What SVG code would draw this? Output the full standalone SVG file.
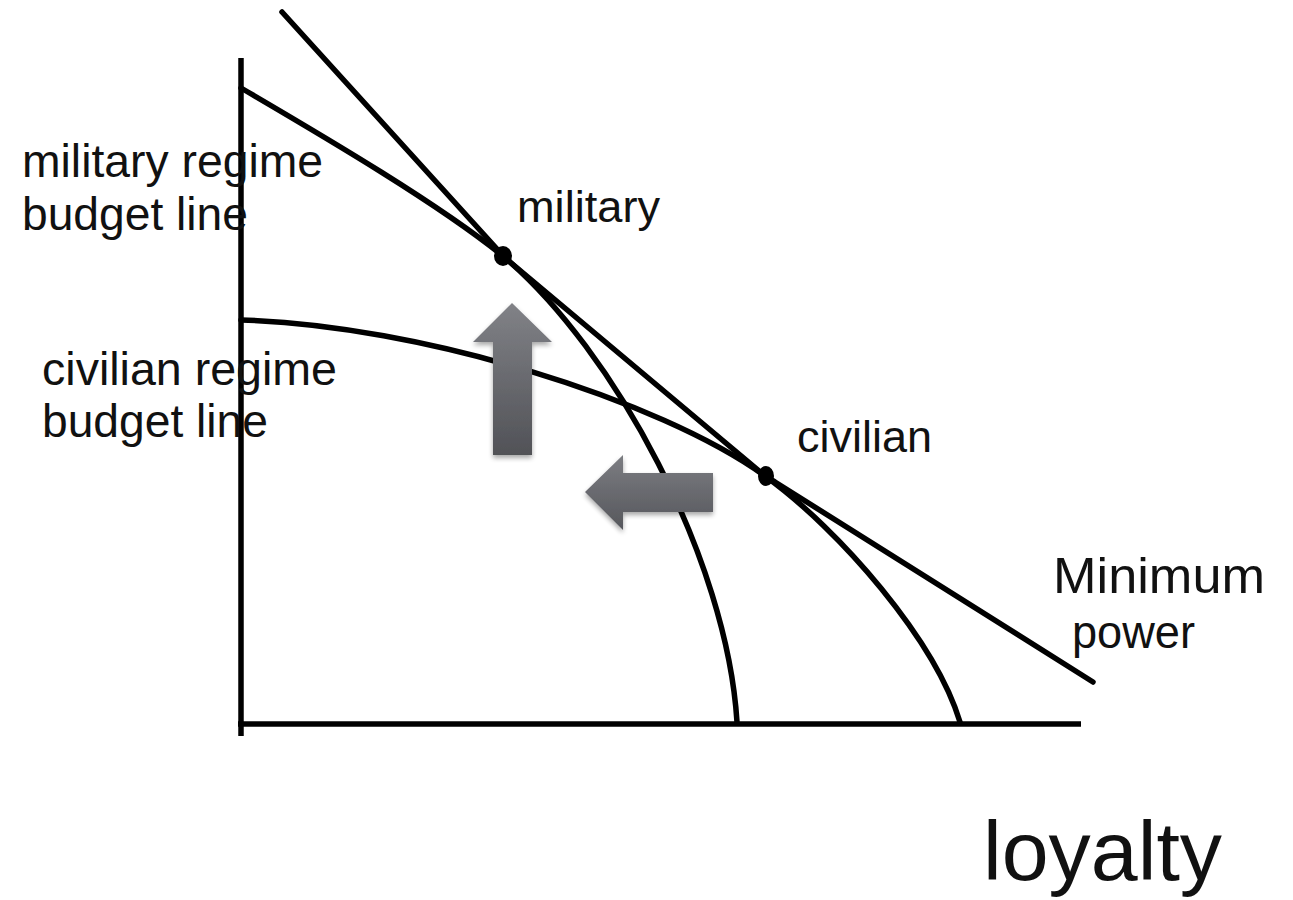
<svg xmlns="http://www.w3.org/2000/svg" width="1293" height="900" viewBox="0 0 1293 900">
  <style>
    .lbl { font-family: "Liberation Sans", Arial, sans-serif; fill: #111; }
    .ln { fill: none; stroke: #000; stroke-width: 5.5; stroke-linecap: round; stroke-linejoin: round; }
    .ax { fill: none; stroke: #000; stroke-width: 5.5; }
  </style>
  <defs>
    <linearGradient id="gUp" x1="0" y1="0" x2="0" y2="1">
      <stop offset="0" stop-color="#818287"/>
      <stop offset="1" stop-color="#515257"/>
    </linearGradient>
    <linearGradient id="gLeft" x1="0" y1="0" x2="0" y2="1">
      <stop offset="0" stop-color="#7c7d82"/>
      <stop offset="1" stop-color="#56575c"/>
    </linearGradient>
    <filter id="sh" x="-20%" y="-20%" width="140%" height="140%">
      <feGaussianBlur in="SourceAlpha" stdDeviation="2.5"/>
      <feOffset dx="0" dy="3" result="b"/>
      <feComponentTransfer><feFuncA type="linear" slope="0.35"/></feComponentTransfer>
      <feMerge><feMergeNode/><feMergeNode in="SourceGraphic"/></feMerge>
    </filter>
  </defs>
  <rect width="1293" height="900" fill="#fff"/>

  <g id="axes">
    <line class="ax" x1="241" y1="58" x2="241" y2="736"/>
    <line class="ax" x1="238" y1="724" x2="1081" y2="724" stroke-width="6"/>
  </g>

  <g id="connectors">
    <path id="military-curve" class="ln" d="M241,88 C330,140 440,205 503,256 C615,350 727,560 737,722"/>
    <path id="civilian-curve" class="ln" d="M241,320 C420,325 660,400 765,476 C840,530 935,640 960,722"/>
    <path id="minimum-power-line" class="ln" d="M282,12 L497,249 Q503,256 510,262 L758,470 Q766,477 775,482 Q930,580 1093,682"/>
  </g>

  <g id="arrows">
    <path id="arrow-up" filter="url(#sh)" fill="url(#gUp)" d="M512,303 L552,342 L532,342 L532,455 L493,455 L493,342 L473,342 Z"/>
    <path id="arrow-left" filter="url(#sh)" fill="url(#gLeft)" d="M585,492 L623,455 L623,473 L713,473 L713,512 L623,512 L623,530 Z"/>
  </g>

  <g id="military-point">
    <ellipse cx="503" cy="256" rx="9" ry="10" fill="#000"/>
  </g>
  <g id="civilian-point">
    <ellipse cx="766" cy="476" rx="8" ry="10" fill="#000"/>
  </g>

  <g id="label-military-regime">
    <text class="lbl" x="22" y="177" font-size="46" textLength="301" lengthAdjust="spacingAndGlyphs">military regime</text>
    <text class="lbl" x="22" y="230" font-size="46" textLength="226" lengthAdjust="spacingAndGlyphs">budget line</text>
  </g>
  <g id="label-civilian-regime">
    <text class="lbl" x="42" y="385" font-size="46" textLength="295" lengthAdjust="spacingAndGlyphs">civilian regime</text>
    <text class="lbl" x="42" y="437" font-size="46" textLength="226" lengthAdjust="spacingAndGlyphs">budget line</text>
  </g>
  <g id="label-military">
    <text class="lbl" x="517" y="222" font-size="45" textLength="143" lengthAdjust="spacingAndGlyphs">military</text>
  </g>
  <g id="label-civilian">
    <text class="lbl" x="797" y="452" font-size="45" textLength="135" lengthAdjust="spacingAndGlyphs">civilian</text>
  </g>
  <g id="label-minimum-power">
    <text class="lbl" x="1053" y="593" font-size="50" textLength="212" lengthAdjust="spacingAndGlyphs">Minimum</text>
    <text class="lbl" x="1072" y="648" font-size="47" textLength="123" lengthAdjust="spacingAndGlyphs">power</text>
  </g>
  <g id="label-loyalty">
    <text class="lbl" x="983" y="880" font-size="84" textLength="239" lengthAdjust="spacingAndGlyphs">loyalty</text>
  </g>
</svg>
